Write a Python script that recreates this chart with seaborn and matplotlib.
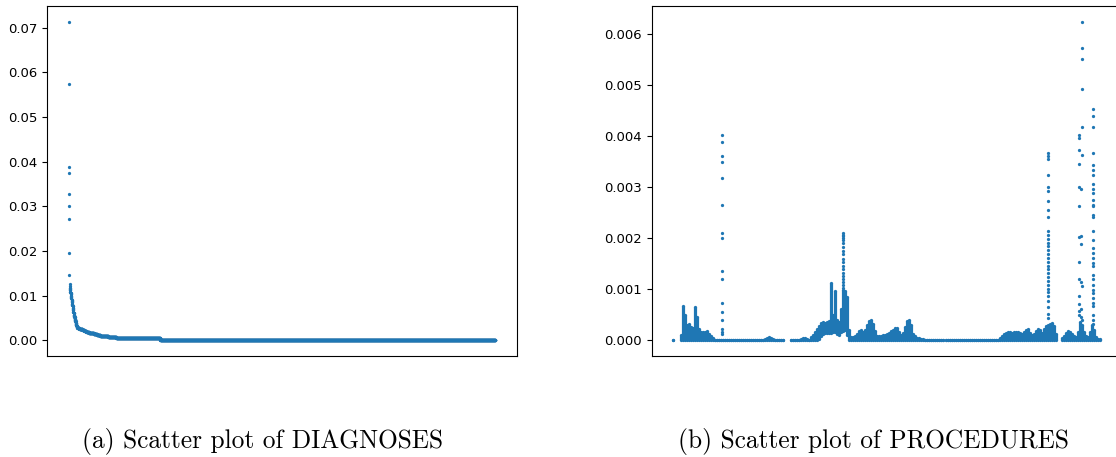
import numpy as np
import pandas as pd
import matplotlib
matplotlib.use("Agg")
import matplotlib.pyplot as plt
import seaborn as sns

nan = np.nan
BLUE = "#1f77b4"

# ---------------- DIAGNOSES: ranked code frequencies (x1e-4), run-length: level / count
diag_levels = [713, 575, 387, 374, 327, 301, 272, 196, 146, 125, 121,
               118, 115, 112, 109, 106, 103, 100, 97, 94, 91, 88, 85, 82, 79, 76, 73, 70, 67, 64,
               60, 57, 54, 51, 48, 45, 42, 39, 36, 33, 31, 30, 29,
               28, 27, 26, 25, 24, 23, 22, 21, 20, 19,
               18, 17, 16, 15, 14, 13, 12, 11,
               10, 9, 8, 7, 6,
               5, 4, 0.2]
diag_counts = ([1] * 11 + [2] * 19 + [3] * 13 + [10] * 10 + [16] * 8 + [40] * 5
               + [20, 380, 3352])

# ---------------- PROCEDURES: per code-bin range of frequencies (x1e-4), bins 2 codes apart
proc_hi = ([0]
           + [nan] * 3
           + [1.0, 6.6, 5.0, 3.0, 3.1, 2.6, 2.4, 6.4, 4.5, 2.2, 1.6, 1.5, 1.6, 1.7, 1.2, 0.8, 0.5]
           + [0] * 25 + [0.3, 0.5, 0.6, 0.5, 0.3] + [0] * 5
           + [nan] * 3
           + [0, 0, 0, 0, 0, 0.3, 0.5, 0.5, 0.3, 0]
           + [0.6, 1.0, 1.6, 2.2, 2.8, 3.3, 3.5, 3.4, 3.6, 3.7, 11.2, 5.0, 9.6, 4.0, 3.5, 6.0, 9.8, 9.6, 8.5, 2.0]
           + [0.6, 0.6, 0.8, 1.2, 1.8, 2.0, 1.5, 2.0, 3.0, 3.8, 4.0, 3.2, 1.8, 0.9, 0.8, 0.8, 1.0, 1.0, 1.2, 1.4,
              1.7, 2.0, 2.3, 2.4, 1.6, 1.0, 1.3, 2.6, 3.8, 4.0, 3.0, 1.2, 0.8, 0.5, 0.4, 0.3, 0.2]
           + [0] * 37
           + [0.5, 0.9, 1.2, 1.4, 1.5, 1.6, 1.4, 1.5, 1.6, 1.5, 1.4, 1.2, 1.5, 1.9, 2.1, 1.4, 1.0, 1.2, 1.8, 2.2,
              2.0, 1.4, 2.2, 2.8, 3.0, 3.2, 3.4, 2.8, 1.2]
           + [nan] * 2
           + [0.4, 0.8, 1.4, 1.8, 1.6, 1.2, 0.8, 0.7, 1.5, 3.5, 3.0, 1.6, 0.8, 0.6, 1.5, 3.0, 2.0, 0.6, 0.3, 0.2])
proc_lo = ([0]
           + [nan] * 3
           + [0] * 17
           + [0] * 35
           + [nan] * 3
           + [0] * 10
           + [0, 0, 0, 0, 0.3, 0.8, 1.2, 1.3, 1.4, 1.4, 1.4, 1.5, 1.6, 1.2, 1.0, 1.5, 1.8, 2.0, 1.0, 0]
           + [0] * 37
           + [0] * 37
           + [0] * 29
           + [nan] * 2
           + [0] * 20)

# isolated high-frequency codes (x1e-4)
spike_x = [48.7, 169.4, 374.4, 405.4, 407.0, 408.7, 419.4]
spike_vals = [
    [40.2, 38.9, 36.2, 35.0, 31.7, 26.5, 21.0, 20.0, 13.5, 11.9, 7.2, 5.5, 4.0, 2.1, 1.6, 1.1],
    [21.0, 20.7, 20.4, 20.0, 19.6, 19.0, 18.3, 17.5, 16.8, 16.0, 15.3, 14.6, 13.9, 13.2, 12.5, 11.9,
     11.3, 10.8, 10.3],
    [36.6, 36.1, 35.6, 32.4, 30.1, 29.3, 27.2, 25.5, 24.2, 21.3, 20.6, 19.9, 19.1, 18.4, 17.6, 16.9,
     16.1, 15.4, 14.6, 13.9, 13.1, 12.4, 11.6, 10.9, 10.1, 9.4, 8.6, 7.6, 6.4, 5.2, 4.4],
    [40.2, 39.6, 37.3, 34.5, 30.1, 26.3, 20.2, 15.3, 11.9, 8.6, 7.0, 5.7, 5.0],
    [29.6, 20.5, 18.9, 11.3, 6.0, 4.5],
    [62.4, 57.3, 55.2, 49.2, 41.8, 36.3, 10.7, 4.0],
    [45.4, 43.9, 41.8, 36.6, 34.3, 33.4, 32.4, 30.6, 29.6, 28.8, 27.5, 26.5, 26.2, 24.6, 24.2, 21.3,
     19.7, 18.1, 17.1, 16.1, 15.1, 14.5, 12.8, 11.9, 10.9, 9.9, 9.3, 8.3, 7.3, 6.6, 5.0, 4.0, 3.1],
]

captions = ["(a) Scatter plot of DIAGNOSES", "(b) Scatter plot of PROCEDURES"]

# ---------------- build tables
diag_vals = np.repeat(np.array(diag_levels, float), diag_counts) * 1e-4
diag_df = pd.DataFrame({"rank": np.arange(len(diag_vals)), "freq": diag_vals})

bin_x = np.arange(len(proc_hi)) * 2.0
hi = np.array(proc_hi, float) * 1e-4
lo = np.array(proc_lo, float) * 1e-4
band = pd.DataFrame({"code": bin_x, "lo": lo, "hi": hi}).dropna()
pts = pd.concat([band[["code", "lo"]].rename(columns={"lo": "freq"}),
                 band[["code", "hi"]].rename(columns={"hi": "freq"})])
sp = pd.DataFrame({"code": np.concatenate([[x] * len(v) for x, v in zip(spike_x, spike_vals)]),
                   "freq": np.concatenate(spike_vals) * 1e-4})
proc_df = pd.concat([pts, sp], ignore_index=True)

# ---------------- draw
fig = plt.figure(figsize=(11.16, 4.57), dpi=100)
ax1 = fig.add_axes([47.3 / 1116, 1 - 356 / 457, 469.4 / 1116, 350 / 457])
ax2 = fig.add_axes([651.7 / 1116, 1 - 356 / 457, 469.4 / 1116, 350 / 457])

sns.scatterplot(data=diag_df, x="rank", y="freq", ax=ax1, s=5.5, linewidth=0, color=BLUE)

tall = band[band["hi"] > band["lo"]]
ax2.vlines(tall["code"], tall["lo"], tall["hi"], colors=BLUE, linewidth=2.3)
sns.scatterplot(data=proc_df, x="code", y="freq", ax=ax2, s=5.5, linewidth=0, color=BLUE)

for ax in (ax1, ax2):
    ax.set_xticks([])
    ax.set_xlabel("")
    ax.set_ylabel("")
    ax.tick_params(axis="y", labelsize=9.5)

fig.text(263 / 1116, 1 - 448 / 457, captions[0], ha="center", va="baseline",
         fontsize=18.3, family="cmr10")
fig.text(873 / 1116, 1 - 448 / 457, captions[1], ha="center", va="baseline",
         fontsize=18.3, family="cmr10")

fig.savefig("out.png", dpi=100)
